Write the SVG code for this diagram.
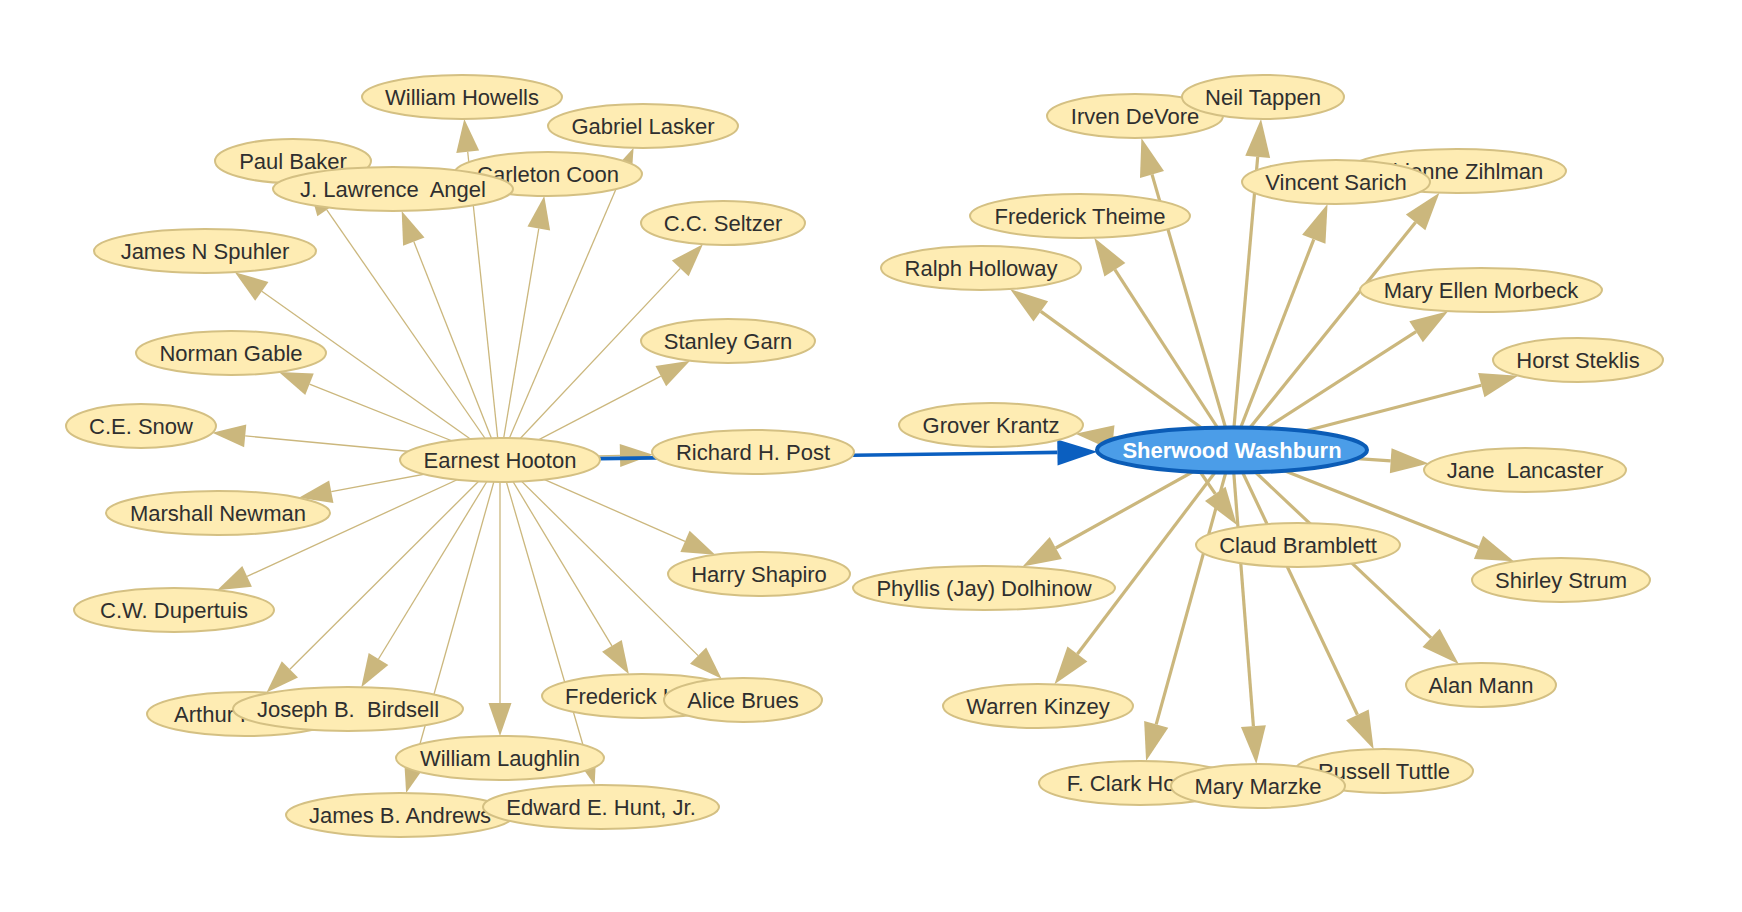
<svg xmlns="http://www.w3.org/2000/svg" width="1742" height="912" viewBox="0 0 1742 912">
<style>
.n ellipse{fill:#feecb3;stroke:#d4c083;stroke-width:2}
.n text{font-family:"Liberation Sans",Arial,Helvetica,sans-serif;font-size:22px;fill:#2f2f2f;text-anchor:middle;white-space:pre}
#washburn ellipse{fill:#4b9de8;stroke:#0b5cb6;stroke-width:4}
#washburn text{fill:#ffffff;font-weight:bold}
.h line{stroke:#cbb77d;stroke-width:1.3;marker-end:url(#ah)}
.w line{stroke:#cbb77d;stroke-width:3.2;marker-end:url(#aw)}
.b line{stroke:#0b5fc0;stroke-width:3.6;marker-end:url(#ab)}
marker{overflow:visible}
</style>
<defs>
<marker id="ah" markerUnits="userSpaceOnUse" markerWidth="40" markerHeight="30" refX="0" refY="0" orient="auto"><path d="M0,-11.5 L33,0 L0,11.5 z" fill="#cbb77d"/></marker>
<marker id="aw" markerUnits="userSpaceOnUse" markerWidth="40" markerHeight="30" refX="0" refY="0" orient="auto"><path d="M0,-12.5 L38,0 L0,12.5 z" fill="#cbb77d"/></marker>
<marker id="ab" markerUnits="userSpaceOnUse" markerWidth="44" markerHeight="30" refX="0" refY="0" orient="auto"><path d="M0,-13 L40,0 L0,13 z" fill="#0b5fc0"/></marker>
</defs>
<rect width="1742" height="912" fill="#ffffff"/>
<g id="connectors">
<g class="h">
<line x1="500" y1="460" x2="467.7" y2="151.8"/>
<line x1="500" y1="460" x2="620.6" y2="178.2"/>
<line x1="500" y1="460" x2="326.8" y2="209.8"/>
<line x1="500" y1="460" x2="538.8" y2="228.5"/>
<line x1="500" y1="460" x2="413.8" y2="241.6"/>
<line x1="500" y1="460" x2="680.3" y2="268.4"/>
<line x1="500" y1="460" x2="261.8" y2="291.3"/>
<line x1="500" y1="460" x2="309.5" y2="384.2"/>
<line x1="500" y1="460" x2="660.8" y2="376.1"/>
<line x1="500" y1="460" x2="245.2" y2="435.9"/>
<line x1="500" y1="458" x2="620" y2="455.5"/>
<line x1="500" y1="460" x2="331.3" y2="491.7"/>
<line x1="500" y1="460" x2="685" y2="541.4"/>
<line x1="500" y1="460" x2="247.1" y2="576.4"/>
<line x1="500" y1="460" x2="289.9" y2="669.3"/>
<line x1="500" y1="460" x2="378.5" y2="659"/>
<line x1="500" y1="460" x2="500" y2="703"/>
<line x1="500" y1="460" x2="611.9" y2="645.9"/>
<line x1="500" y1="460" x2="698.1" y2="655.6"/>
<line x1="500" y1="460" x2="415.1" y2="761.3"/>
<line x1="500" y1="460" x2="585.4" y2="753.3"/>
</g>
<g class="b">
<line x1="500" y1="460" x2="1057.4" y2="452.4"/>
</g>
<g class="w">
<line x1="1232" y1="450" x2="1152" y2="174.4"/>
<line x1="1232" y1="450" x2="1257.7" y2="156.9"/>
<line x1="1232" y1="450" x2="1415.6" y2="222.3"/>
<line x1="1232" y1="450" x2="1313.8" y2="239.3"/>
<line x1="1232" y1="450" x2="1114.9" y2="269.7"/>
<line x1="1232" y1="450" x2="1040.8" y2="311.4"/>
<line x1="1232" y1="450" x2="1416.1" y2="331.7"/>
<line x1="1232" y1="450" x2="1481.3" y2="385.2"/>
<line x1="1232" y1="450" x2="1113.2" y2="437.7"/>
<line x1="1232" y1="450" x2="1390.7" y2="460.8"/>
<line x1="1190" y1="457" x2="1215.3" y2="493.8"/>
<line x1="1232" y1="450" x2="1478.5" y2="547.4"/>
<line x1="1232" y1="450" x2="1055.8" y2="548"/>
<line x1="1232" y1="450" x2="1431.1" y2="637.9"/>
<line x1="1232" y1="450" x2="1077.4" y2="654"/>
<line x1="1232" y1="450" x2="1156.2" y2="724.4"/>
<line x1="1232" y1="450" x2="1253.4" y2="726.1"/>
<line x1="1232" y1="450" x2="1357.4" y2="714.8"/>
</g>
</g>
<g id="hooton" class="n"><ellipse cx="500" cy="460" rx="100" ry="22"/><text x="500" y="468">Earnest Hooton</text></g>
<g id="howells" class="n"><ellipse cx="462" cy="97" rx="100" ry="22"/><text x="462" y="105">William Howells</text></g>
<g id="lasker" class="n"><ellipse cx="643" cy="126" rx="95" ry="22"/><text x="643" y="134">Gabriel Lasker</text></g>
<g id="baker" class="n"><ellipse cx="293" cy="161" rx="78" ry="22"/><text x="293" y="169">Paul Baker</text></g>
<g id="coon" class="n"><ellipse cx="548" cy="174" rx="94" ry="22"/><text x="548" y="182">Carleton Coon</text></g>
<g id="angel" class="n"><ellipse cx="393" cy="189" rx="120" ry="22"/><text x="393" y="197" xml:space="preserve">J. Lawrence  Angel</text></g>
<g id="seltzer" class="n"><ellipse cx="723" cy="223" rx="82" ry="22"/><text x="723" y="231">C.C. Seltzer</text></g>
<g id="spuhler" class="n"><ellipse cx="205" cy="251" rx="111" ry="22"/><text x="205" y="259">James N Spuhler</text></g>
<g id="gable" class="n"><ellipse cx="231" cy="353" rx="95" ry="22"/><text x="231" y="361">Norman Gable</text></g>
<g id="garn" class="n"><ellipse cx="728" cy="341" rx="87" ry="22"/><text x="728" y="349">Stanley Garn</text></g>
<g id="snow" class="n"><ellipse cx="141" cy="426" rx="75" ry="22"/><text x="141" y="434">C.E. Snow</text></g>
<g id="post" class="n"><ellipse cx="753" cy="452" rx="101" ry="22"/><text x="753" y="460">Richard H. Post</text></g>
<g id="newman" class="n"><ellipse cx="218" cy="513" rx="112" ry="22"/><text x="218" y="521">Marshall Newman</text></g>
<g id="shapiro" class="n"><ellipse cx="759" cy="574" rx="91" ry="22"/><text x="759" y="582">Harry Shapiro</text></g>
<g id="dupertuis" class="n"><ellipse cx="174" cy="610" rx="100" ry="22"/><text x="174" y="618">C.W. Dupertuis</text></g>
<g id="kelly" class="n"><ellipse cx="245" cy="714" rx="98" ry="22"/><text x="245" y="722">Arthur R. Kelly</text></g>
<g id="birdsell" class="n"><ellipse cx="348" cy="709" rx="115" ry="22"/><text x="348" y="717" xml:space="preserve">Joseph B.  Birdsell</text></g>
<g id="laughlin" class="n"><ellipse cx="500" cy="758" rx="104" ry="22"/><text x="500" y="766">William Laughlin</text></g>
<g id="hulse" class="n"><ellipse cx="642" cy="696" rx="100" ry="22"/><text x="642" y="704">Frederick Hulse</text></g>
<g id="brues" class="n"><ellipse cx="743" cy="700" rx="79" ry="22"/><text x="743" y="708">Alice Brues</text></g>
<g id="andrews" class="n"><ellipse cx="400" cy="815" rx="114" ry="22"/><text x="400" y="823">James B. Andrews</text></g>
<g id="hunt" class="n"><ellipse cx="601" cy="807" rx="118" ry="22"/><text x="601" y="815">Edward E. Hunt, Jr.</text></g>
<g id="washburn" class="n"><ellipse cx="1232" cy="450" rx="135" ry="22.5"/><text x="1232" y="458">Sherwood Washburn</text></g>
<g id="devore" class="n"><ellipse cx="1135" cy="116" rx="88" ry="22"/><text x="1135" y="124">Irven DeVore</text></g>
<g id="tappen" class="n"><ellipse cx="1263" cy="97" rx="81" ry="22"/><text x="1263" y="105">Neil Tappen</text></g>
<g id="zihlman" class="n"><ellipse cx="1457" cy="171" rx="109" ry="22"/><text x="1457" y="179">Adrienne Zihlman</text></g>
<g id="sarich" class="n"><ellipse cx="1336" cy="182" rx="94" ry="22"/><text x="1336" y="190">Vincent Sarich</text></g>
<g id="theime" class="n"><ellipse cx="1080" cy="216" rx="110" ry="22"/><text x="1080" y="224">Frederick Theime</text></g>
<g id="holloway" class="n"><ellipse cx="981" cy="268" rx="100" ry="22"/><text x="981" y="276">Ralph Holloway</text></g>
<g id="morbeck" class="n"><ellipse cx="1481" cy="290" rx="121" ry="22"/><text x="1481" y="298">Mary Ellen Morbeck</text></g>
<g id="steklis" class="n"><ellipse cx="1578" cy="360" rx="85" ry="22"/><text x="1578" y="368">Horst Steklis</text></g>
<g id="krantz" class="n"><ellipse cx="991" cy="425" rx="92" ry="22"/><text x="991" y="433">Grover Krantz</text></g>
<g id="lancaster" class="n"><ellipse cx="1525" cy="470" rx="101" ry="22"/><text x="1525" y="478" xml:space="preserve">Jane  Lancaster</text></g>
<g id="bramblett" class="n"><ellipse cx="1298" cy="545" rx="102" ry="22"/><text x="1298" y="553">Claud Bramblett</text></g>
<g id="strum" class="n"><ellipse cx="1561" cy="580" rx="89" ry="22"/><text x="1561" y="588">Shirley Strum</text></g>
<g id="dolhinow" class="n"><ellipse cx="984" cy="588" rx="131" ry="22"/><text x="984" y="596">Phyllis (Jay) Dolhinow</text></g>
<g id="mann" class="n"><ellipse cx="1481" cy="685" rx="75" ry="22"/><text x="1481" y="693">Alan Mann</text></g>
<g id="kinzey" class="n"><ellipse cx="1038" cy="706" rx="95" ry="22"/><text x="1038" y="714">Warren Kinzey</text></g>
<g id="howell" class="n"><ellipse cx="1140" cy="783" rx="101" ry="22"/><text x="1140" y="791">F. Clark Howell</text></g>
<g id="tuttle" class="n"><ellipse cx="1384" cy="771" rx="89" ry="22"/><text x="1384" y="779">Russell Tuttle</text></g>
<g id="marzke" class="n"><ellipse cx="1258" cy="786" rx="87" ry="22"/><text x="1258" y="794">Mary Marzke</text></g>
</svg>
